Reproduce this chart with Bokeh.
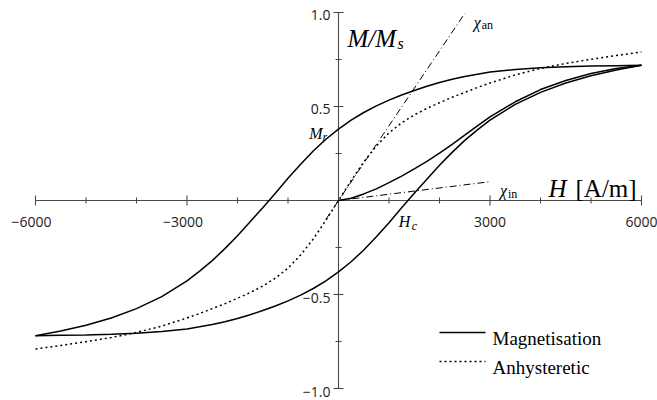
import numpy as np
from bokeh.plotting import figure
from bokeh.core.properties import value
from bokeh.embed import file_html
from bokeh.resources import INLINE

# Applied field H in A/m
h_loop = [-6000, -5500, -5000, -4500, -4000, -3500, -3000, -2750, -2500, -2250,
          -2000, -1750, -1500, -1250, -1000, -750, -500, -250, 0, 250, 500, 750,
          1000, 1250, 1500, 1750, 2000, 2250, 2500, 2750, 3000, 3500, 4000, 4500,
          5000, 5500, 6000]

# Descending branch of the hysteresis loop (M/Ms)
m_upper = [-0.719, -0.694, -0.664, -0.625, -0.575, -0.511, -0.427, -0.376, -0.320, -0.256,
           -0.187, -0.113, -0.038, 0.039, 0.118, 0.193, 0.263, 0.326, 0.380, 0.427, 0.468, 0.503,
           0.534, 0.561, 0.585, 0.608, 0.628, 0.645, 0.660, 0.672, 0.683, 0.697, 0.706, 0.711,
           0.715, 0.717, 0.719]

# Ascending branch of the hysteresis loop (M/Ms)
m_lower = [-0.719, -0.717, -0.715, -0.711, -0.706, -0.697, -0.683, -0.672, -0.660, -0.645,
           -0.628, -0.608, -0.585, -0.561, -0.534, -0.503, -0.468, -0.427, -0.380, -0.326, -0.263, -0.193,
           -0.118, -0.039, 0.038, 0.113, 0.187, 0.256, 0.320, 0.376, 0.427, 0.511, 0.575, 0.625,
           0.664, 0.694, 0.719]

# Initial magnetisation curve from the demagnetised state
h_initial = [0, 250, 500, 750, 1000, 1250, 1500, 1750, 2000, 2250, 2500, 2750, 3000,
             3500, 4000, 4500, 5000, 5500, 6000]
m_initial = [0.0, 0.012, 0.035, 0.062, 0.095, 0.13, 0.168, 0.208, 0.252, 0.299, 0.348,
             0.397, 0.445, 0.525, 0.59, 0.638, 0.675, 0.702, 0.719]

# Anhysteretic magnetisation curve
h_anhyst = [-6000, -5500, -5000, -4500, -4000, -3500, -3000, -2750, -2500, -2250, -2000,
            -1750, -1500, -1250, -1000, -750, -500, -250, 0, 250, 500, 750, 1000, 1250,
            1500, 1750, 2000, 2250, 2500, 2750, 3000, 3500, 4000, 4500, 5000, 5500, 6000]
m_anhyst = [-0.79, -0.771, -0.751, -0.729, -0.702, -0.668, -0.625, -0.601, -0.575, -0.549, -0.52,
            -0.49, -0.455, -0.413, -0.36, -0.29, -0.205, -0.105, 0.0, 0.105, 0.205, 0.29, 0.36, 0.413,
            0.455, 0.49, 0.52, 0.549, 0.575, 0.601, 0.625, 0.668, 0.702, 0.729, 0.751, 0.771, 0.79]

# Susceptibility tangent lines
h_chi_an = [-250, 2500]
m_chi_an = [-0.10, 0.995]
h_chi_in = [0, 3000]
m_chi_in = [0.0, 0.10]

# Remanence and coercivity
m_remanence = 0.38
h_coercive = 1370

# Axis ticks
x_major = [-6000, -3000, 3000, 6000]
x_major_labels = ["\u22126000", "\u22123000", "3000", "6000"]
x_minor = [-5000, -4000, -2000, -1000, 1000, 2000, 4000, 5000]
y_major = [-1.0, -0.5, 0.5, 1.0]
y_major_labels = ["\u22121.0", "\u22120.5", "0.5", "1.0"]
y_minor = [-0.75, -0.25, 0.25, 0.75]

# Legend entries
legend_labels = ["Magnetisation", "Anhysteretic"]
legend_dashes = ["solid", "2 3"]

SERIF = value("Liberation Serif")
SANS = value("Open Sans")
AXIS_COLOR = "#4a4a4a"

p = figure(width=657, height=400, x_range=(-6693.1, 6316.8), y_range=(-1.0638, 1.0638),
           x_axis_location=None, y_axis_location=None, toolbar_location=None,
           output_backend="svg", min_border=0)
p.xgrid.visible = False
p.ygrid.visible = False
p.outline_line_color = None
p.background_fill_color = "white"
p.border_fill_color = "white"

# Axes crossing at the origin
p.segment(x0=[x_major[0], 0], y0=[0, y_major[0]], x1=[x_major[-1], 0], y1=[0, y_major[-1]],
          line_color=AXIS_COLOR, line_width=1.1)
p.scatter(x=x_major, y=[0] * len(x_major), marker="dash", angle=np.pi / 2, size=10,
          line_color=AXIS_COLOR, line_width=1.1)
p.scatter(x=x_minor, y=[0] * len(x_minor), marker="dash", angle=np.pi / 2, size=6,
          line_color=AXIS_COLOR, line_width=1.1)
p.scatter(x=[0] * len(y_major), y=y_major, marker="dash", size=10,
          line_color=AXIS_COLOR, line_width=1.1)
p.scatter(x=[0] * len(y_minor), y=y_minor, marker="dash", size=6,
          line_color=AXIS_COLOR, line_width=1.1)

p.text(x=x_major, y=[0] * len(x_major), text=x_major_labels, text_font=SANS,
       text_font_size="14px", text_align="right", text_baseline="alphabetic",
       x_offset=16, y_offset=21, text_color="#222222")
p.text(x=[0] * len(y_major), y=y_major, text=y_major_labels, text_font=SANS,
       text_font_size="14px", text_align="right", text_baseline="alphabetic",
       x_offset=-8, y_offset=3, text_color="#222222")

# Curves
p.line(h_loop, m_upper, line_color="black", line_width=1.5)
p.line(h_loop, m_lower, line_color="black", line_width=1.5)
p.line(h_initial, m_initial, line_color="black", line_width=1.5)
p.line(h_anhyst, m_anhyst, line_color="black", line_width=1.5, line_dash="2 3")
p.line(h_chi_an, m_chi_an, line_color="black", line_width=1, line_dash="7 3 1 3")
p.line(h_chi_in, m_chi_in, line_color="black", line_width=1, line_dash="7 3 1 3")

# Axis titles
p.text(x=[0], y=[1.0], text=["M/M"], text_font=SERIF, text_font_style="italic",
       text_font_size="25px", x_offset=9, y_offset=26, text_baseline="alphabetic")
p.text(x=[0], y=[1.0], text=["s"], text_font=SERIF, text_font_style="italic",
       text_font_size="16px", x_offset=59, y_offset=31, text_baseline="alphabetic")
p.text(x=[6000], y=[0], text=["H"], text_font=SERIF, text_font_style="italic",
       text_font_size="25px", x_offset=-93, y_offset=-12, text_baseline="alphabetic")
p.text(x=[6000], y=[0], text=["[A/m]"], text_font=SERIF,
       text_font_size="25px", x_offset=-66, y_offset=-12, text_baseline="alphabetic")

# Remanence and coercivity labels
p.text(x=[0], y=[m_remanence], text=["M"], text_font=SERIF, text_font_style="italic",
       text_font_size="16px", text_align="right", x_offset=-16, y_offset=4.5,
       text_baseline="alphabetic")
p.text(x=[0], y=[m_remanence], text=["r"], text_font=SERIF, text_font_style="italic",
       text_font_size="12px", x_offset=-16, y_offset=7.5, text_baseline="alphabetic")
p.text(x=[h_coercive], y=[0], text=["H"], text_font=SERIF, text_font_style="italic",
       text_font_size="16px", x_offset=-9, y_offset=21, text_baseline="alphabetic")
p.text(x=[h_coercive], y=[0], text=["c"], text_font=SERIF, text_font_style="italic",
       text_font_size="12px", x_offset=4, y_offset=25, text_baseline="alphabetic")

# Susceptibility labels
p.text(x=[h_chi_an[-1]], y=[m_chi_an[-1]], text=["\u03c7"], text_font=SERIF,
       text_font_style="italic", text_font_size="16px", x_offset=9, y_offset=9,
       text_baseline="alphabetic")
p.text(x=[h_chi_an[-1]], y=[m_chi_an[-1]], text=["an"], text_font=SERIF,
       text_font_size="12px", x_offset=17, y_offset=12, text_baseline="alphabetic")
p.text(x=[h_chi_in[-1]], y=[m_chi_in[-1]], text=["\u03c7"], text_font=SERIF,
       text_font_style="italic", text_font_size="16px", x_offset=10, y_offset=9,
       text_baseline="alphabetic")
p.text(x=[h_chi_in[-1]], y=[m_chi_in[-1]], text=["in"], text_font=SERIF,
       text_font_size="12px", x_offset=18, y_offset=12, text_baseline="alphabetic")

# Legend in the lower right corner (anchored at the H = 2000 A/m column)
legend_x0, legend_x1, legend_text_x = 2000, 2911, 3050
legend_rows = [-0.702, -0.856]
for row, label, dash in zip(legend_rows, legend_labels, legend_dashes):
    p.line([legend_x0, legend_x1], [row, row], line_color="black", line_width=1.5,
           line_dash=dash)
    p.text(x=[legend_text_x], y=[row], text=[label], text_font=SERIF,
           text_font_size="19px", y_offset=6, text_baseline="alphabetic")

open("out.html", "w").write(file_html(p, INLINE))
